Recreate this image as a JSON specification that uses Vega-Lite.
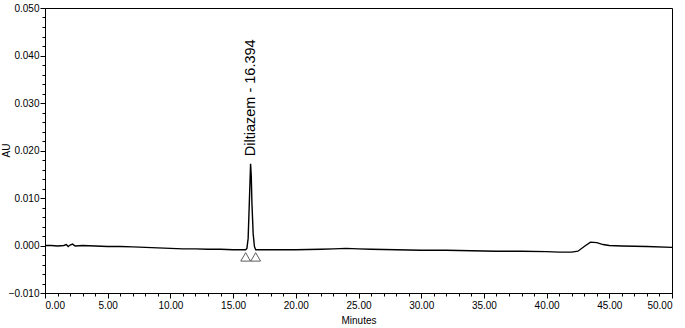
{
  "$schema": "https://vega.github.io/schema/vega-lite/v6.json",
  "width": 627,
  "height": 285,
  "autosize": "none",
  "padding": {"left": 45, "top": 8, "right": 13, "bottom": 35},
  "background": "white",
  "config": {
    "view": {"stroke": "#000", "strokeWidth": 1},
    "axis": {
      "grid": false,
      "domainColor": "#000",
      "tickColor": "#000",
      "labelColor": "#000",
      "titleColor": "#000",
      "labelFont": "Liberation Sans",
      "titleFont": "Liberation Sans",
      "labelFontSize": 10,
      "titleFontSize": 10,
      "titleFontWeight": "normal"
    }
  },
  "datasets": {
    "trace": [
      {"t": 0, "au": 0.0000}, {"t": 0.5, "au": 0.0000}, {"t": 1.0, "au": -0.0001},
      {"t": 1.5, "au": 0.0000}, {"t": 1.7, "au": 0.0002}, {"t": 1.85, "au": -0.0002},
      {"t": 2.0, "au": 0.0001}, {"t": 2.2, "au": 0.0003}, {"t": 2.4, "au": -0.0001},
      {"t": 3.0, "au": 0.0000}, {"t": 4.0, "au": -0.0001}, {"t": 5.0, "au": -0.0002},
      {"t": 6.0, "au": -0.0002}, {"t": 7.0, "au": -0.0003}, {"t": 8.0, "au": -0.0004},
      {"t": 9.0, "au": -0.0005}, {"t": 10.0, "au": -0.0006}, {"t": 11.0, "au": -0.0007},
      {"t": 12.0, "au": -0.0007}, {"t": 13.0, "au": -0.0008}, {"t": 14.0, "au": -0.0008},
      {"t": 15.0, "au": -0.0009}, {"t": 15.8, "au": -0.0009}, {"t": 16.0, "au": -0.0009},
      {"t": 16.1, "au": -0.0006}, {"t": 16.2, "au": 0.0015}, {"t": 16.3, "au": 0.0095},
      {"t": 16.394, "au": 0.0172}, {"t": 16.45, "au": 0.0145}, {"t": 16.5, "au": 0.0090},
      {"t": 16.6, "au": 0.0025}, {"t": 16.7, "au": -0.0002}, {"t": 16.8, "au": -0.0009},
      {"t": 17.0, "au": -0.0009}, {"t": 18.0, "au": -0.0009}, {"t": 20.0, "au": -0.0009},
      {"t": 22.0, "au": -0.0008}, {"t": 23.0, "au": -0.0007}, {"t": 24.0, "au": -0.0006},
      {"t": 25.0, "au": -0.0007}, {"t": 26.0, "au": -0.0008}, {"t": 28.0, "au": -0.0009},
      {"t": 30.0, "au": -0.0010}, {"t": 32.0, "au": -0.0010}, {"t": 34.0, "au": -0.0011},
      {"t": 36.0, "au": -0.0012}, {"t": 38.0, "au": -0.0012}, {"t": 40.0, "au": -0.0013},
      {"t": 41.0, "au": -0.0014}, {"t": 42.0, "au": -0.0014}, {"t": 42.5, "au": -0.0012},
      {"t": 43.0, "au": -0.0002}, {"t": 43.5, "au": 0.0007}, {"t": 44.0, "au": 0.0006},
      {"t": 44.5, "au": 0.0002}, {"t": 45.0, "au": 0.0000}, {"t": 46.0, "au": -0.0001},
      {"t": 48.0, "au": -0.0002}, {"t": 50.0, "au": -0.0004}
    ],
    "marks": [
      {"t": 16.0, "au": -0.0024},
      {"t": 16.8, "au": -0.0024}
    ],
    "label": [
      {"t": 16.394, "au": 0.0188, "text": "Diltiazem - 16.394"}
    ]
  },
  "layer": [
    {
      "data": {"name": "trace"},
      "mark": {"type": "line", "color": "#000", "strokeWidth": 1.4, "clip": true},
      "encoding": {
        "x": {
          "field": "t", "type": "quantitative",
          "scale": {"domain": [0, 50], "nice": false, "zero": false},
          "axis": {"title": "Minutes", "values": [0, 5, 10, 15, 20, 25, 30, 35, 40, 45, 50], "format": ".2f", "tickSize": 5, "labelPadding": 2, "titlePadding": 5, "orient": "bottom"}
        },
        "y": {
          "field": "au", "type": "quantitative",
          "scale": {"domain": [-0.01, 0.05], "nice": false, "zero": false},
          "axis": {"title": "AU", "values": [-0.01, 0, 0.01, 0.02, 0.03, 0.04, 0.05], "format": ".3f", "tickSize": 5, "labelPadding": 1, "titleX": -39, "titleY": 142, "titleAngle": 270, "titleBaseline": "middle", "titleAlign": "center", "orient": "left"}
        }
      }
    },
    {
      "data": {"name": "marks"},
      "mark": {"type": "point", "shape": "triangle-up", "filled": false, "color": "#000", "size": 95, "strokeWidth": 0.9},
      "encoding": {
        "x": {
          "field": "t", "type": "quantitative",
          "scale": {"domain": [0, 50], "nice": false, "zero": false},
          "axis": {"title": null, "labels": false, "domain": false, "tickSize": 3, "orient": "bottom",
            "values": [1,2,3,4,6,7,8,9,11,12,13,14,16,17,18,19,21,22,23,24,26,27,28,29,31,32,33,34,36,37,38,39,41,42,43,44,46,47,48,49]}
        },
        "y": {
          "field": "au", "type": "quantitative",
          "scale": {"domain": [-0.01, 0.05], "nice": false, "zero": false},
          "axis": {"title": null, "labels": false, "domain": false, "tickSize": 3, "orient": "left",
            "values": [-0.008,-0.006,-0.004,-0.002,0.002,0.004,0.006,0.008,0.012,0.014,0.016,0.018,0.022,0.024,0.026,0.028,0.032,0.034,0.036,0.038,0.042,0.044,0.046,0.048]}
        }
      }
    },
    {
      "data": {"name": "label"},
      "mark": {"type": "text", "angle": 270, "align": "left", "baseline": "middle", "font": "Liberation Sans", "fontSize": 14.5, "color": "#000"},
      "encoding": {
        "x": {"field": "t", "type": "quantitative", "scale": {"domain": [0, 50], "nice": false, "zero": false}, "axis": null},
        "y": {"field": "au", "type": "quantitative", "scale": {"domain": [-0.01, 0.05], "nice": false, "zero": false}, "axis": null},
        "text": {"field": "text"}
      }
    }
  ],
  "resolve": {"axis": {"x": "independent", "y": "independent"}}
}
